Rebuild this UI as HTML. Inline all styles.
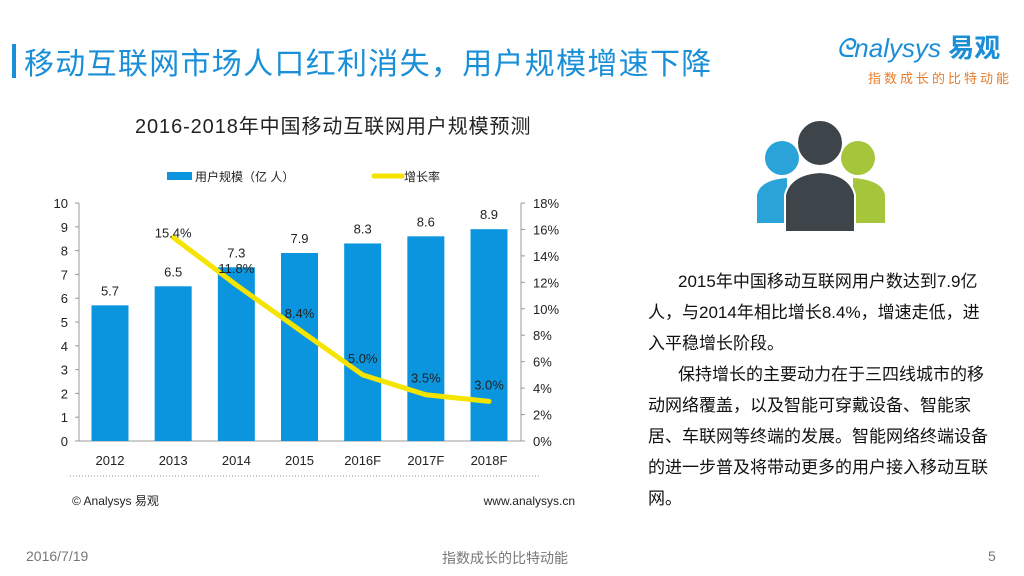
<!DOCTYPE html>
<html><head><meta charset="utf-8"><style>
body{margin:0;width:1024px;height:576px;background:#fff;position:relative;overflow:hidden;font-family:"Liberation Sans","Noto Sans CJK SC",sans-serif;}
.abs{position:absolute;}
</style></head><body>
<div class="abs" style="left:12px;top:44px;width:4px;height:34px;background:#1a8fd8"></div>
<div class="abs" style="left:24px;top:39px;font-size:30px;letter-spacing:1.3px;color:#1a8fd8;white-space:nowrap">移动互联网市场人口红利消失，用户规模增速下降</div>
<div class="abs" style="left:836px;top:28px;font-size:26px;color:#1a8fd8;font-style:italic;white-space:nowrap">ᘓnalysys <b style="font-style:normal">易观</b></div>
<div class="abs" style="left:868px;top:68px;font-size:13px;color:#e87d2a;letter-spacing:3px;white-space:nowrap">指数成长的比特动能</div>
<div class="abs" style="left:135px;top:110px;font-size:20px;letter-spacing:0.9px;color:#222;white-space:nowrap">2016-2018年中国移动互联网用户规模预测</div>
<svg class="abs" style="left:0;top:0" width="1024" height="576">
<g id="g"></g>
<line x1="70" y1="476" x2="540" y2="476" stroke="#999" stroke-dasharray="1,2"/>
<text x="72" y="505" font-size="12" fill="#222">© Analysys 易观</text>
<text x="575" y="505" font-size="12" fill="#222" text-anchor="end">www.analysys.cn</text>
<g>
<path d="M757 223 L757 195 Q760 180 787 178 L787 223Z" fill="#2aa3d8"/>
<circle cx="782" cy="158" r="17" fill="#2aa3d8"/>
<path d="M885 223 L885 195 Q882 180 853 178 L853 223Z" fill="#a5c63b"/>
<circle cx="858" cy="158" r="17" fill="#a5c63b"/>
<path d="M785 232 L785 195 Q790 174 820 172 Q850 174 855 195 L855 232Z" fill="#3d454b" stroke="#fff" stroke-width="2"/>
<circle cx="820" cy="143" r="23" fill="#3d454b" stroke="#fff" stroke-width="2"/>
</g>
</svg>
<div class="abs" style="left:648px;top:266px;width:360px;font-size:17px;line-height:31px;color:#111;white-space:nowrap">
<p style="margin:0;text-indent:30px">2015年中国移动互联网用户数达到7.9亿<br>人，与2014年相比增长8.4%，增速走低，进<br>入平稳增长阶段。</p>
<p style="margin:0;text-indent:30px">保持增长的主要动力在于三四线城市的移<br>动网络覆盖，以及智能可穿戴设备、智能家<br>居、车联网等终端的发展。智能网络终端设备<br>的进一步普及将带动更多的用户接入移动互联<br>网。</p>
</div>
<div class="abs" style="left:26px;top:548px;font-size:14px;color:#777">2016/7/19</div>
<div class="abs" style="left:442px;top:548px;font-size:14px;color:#777">指数成长的比特动能</div>
<div class="abs" style="left:988px;top:548px;font-size:14px;color:#777">5</div>
<script>
const categories=["2012","2013","2014","2015","2016F","2017F","2018F"];
const users=[5.7,6.5,7.3,7.9,8.3,8.6,8.9];
const growth=[null,15.4,11.8,8.4,5.0,3.5,3.0];
const leftTicks=[0,1,2,3,4,5,6,7,8,9,10];
const rightTicks=[0,2,4,6,8,10,12,14,16,18];
const NS="http://www.w3.org/2000/svg",g=document.getElementById('g');
const X0=79,X1=521,Y0=441,Y1=203;
const yL=v=>Y0-(Y0-Y1)*v/10, yR=v=>Y0-(Y0-Y1)*v/18;
const xc=i=>110+i*63.17;
function el(t,a,txt){const e=document.createElementNS(NS,t);for(const k in a)e.setAttribute(k,a[k]);if(txt!=null)e.textContent=txt;g.appendChild(e);return e;}
let e;
e=el('line',{x1:X0,y1:Y1,x2:X0,y2:Y0,stroke:'#999'});
e=el('line',{x1:X1,y1:Y1,x2:X1,y2:Y0,stroke:'#999'});
e=el('line',{x1:X0,y1:Y0,x2:X1,y2:Y0,stroke:'#999'});
leftTicks.forEach(v=>{el('line',{x1:X0-4,y1:yL(v),x2:X0,y2:yL(v),stroke:'#999'});
e=el('text',{x:68,y:yL(v)+5,'font-size':13,'text-anchor':'end',fill:'#222'},v);});
rightTicks.forEach(v=>{el('line',{x1:X1,y1:yR(v),x2:X1+4,y2:yR(v),stroke:'#999'});
e=el('text',{x:533,y:yR(v)+5,'font-size':13,fill:'#222'},v+'%');});
categories.forEach((c,i)=>{
e=el('rect',{x:xc(i)-18.5,y:yL(users[i]),width:37,height:Y0-yL(users[i]),fill:'#0a95de'});
e=el('text',{x:xc(i),y:yL(users[i])-10,'font-size':13,'text-anchor':'middle',fill:'#222'},users[i]);
e=el('text',{x:xc(i),y:465,'font-size':13,'text-anchor':'middle',fill:'#222'},c);
});
let pts=[];growth.forEach((v,i)=>{if(v!=null)pts.push(xc(i)+','+yR(v));});
e=el('polyline',{points:pts.join(' '),fill:'none',stroke:'#f5e400','stroke-width':5,'stroke-linejoin':'round','stroke-linecap':'round'});
growth.forEach((v,i)=>{if(v==null)return;e=el('text',{x:xc(i),y:yR(v)-(i==1?0:12),'font-size':13,'text-anchor':'middle',fill:'#222'},v.toFixed(1)+'%');});
e=el('rect',{x:167,y:172,width:25,height:8,fill:'#0a95de'});
e=el('text',{x:195,y:181,'font-size':12,fill:'#222'},'用户规模（亿 人）');
e=el('line',{x1:374,y1:176,x2:402,y2:176,stroke:'#f5e400','stroke-width':5,'stroke-linecap':'round'});
e=el('text',{x:404,y:181,'font-size':12,fill:'#222'},'增长率');
</script>
</body></html>
